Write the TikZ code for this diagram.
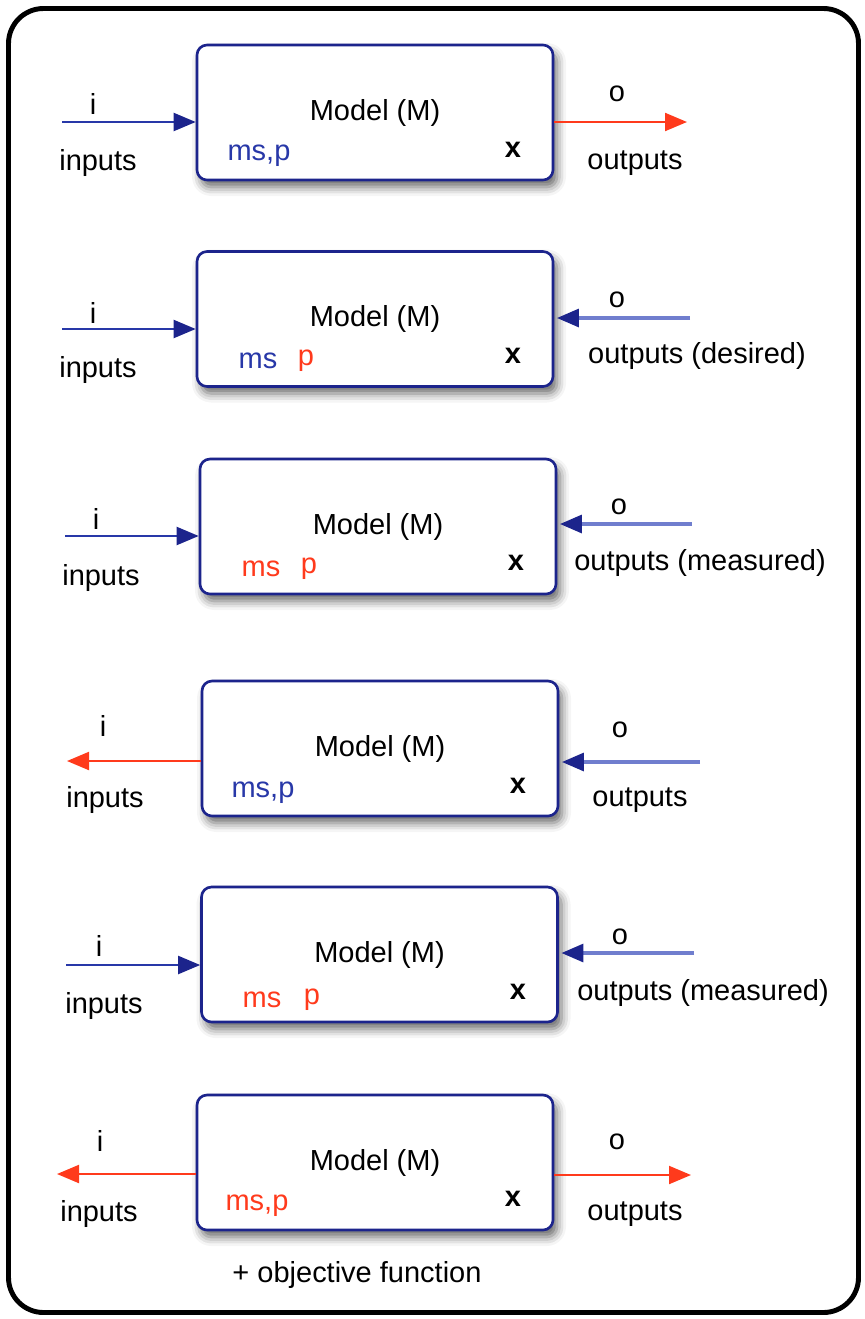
\documentclass[tikz,border=0pt]{standalone}
\usepackage{fontspec}
\setmainfont{Liberation Sans}
\usetikzlibrary{arrows.meta,shadows.blur}

\definecolor{marino}{RGB}{28,36,140}
\definecolor{azul}{RGB}{40,56,168}
\definecolor{celeste}{RGB}{112,126,206}
\definecolor{rojo}{RGB}{255,58,28}

\begin{document}
\begin{tikzpicture}[font=\fontsize{16.5}{19}\selectfont,
		modelo/.style={draw=marino, line width=1.5pt, rounded corners=2mm, fill=white,
			minimum width=7.12cm, minimum height=2.7cm,
			blur shadow={shadow xshift=0.8mm, shadow yshift=-1.4mm, shadow blur radius=1.8mm, shadow opacity=60}},
		entra/.style={line width=1.2pt, draw=azul, -{Triangle[length=4.4mm, width=3.6mm, color=marino]}},
		vuelve/.style={line width=1.8pt, draw=celeste, -{Triangle[length=4.4mm, width=3.6mm, color=marino]}},
		sale/.style={line width=1.2pt, draw=rojo, -{Triangle[length=4.4mm, width=3.6mm, color=rojo]}},
		ta/.style={text=azul},
		tr/.style={text=rojo},
		estado/.style={font=\fontsize{16.5}{19}\selectfont\bfseries}]
	\useasboundingbox (0,0) rectangle (17.3,-26.38);
	\draw[line width=2.8pt, rounded corners=0.7cm] (0.17,-0.17) rectangle (17.17,-26.25);

	% fila 1: simulacion
	\node[modelo] (m1) at (7.50,-2.25) {Model (M)};
	\node[ta] (mp1) at (5.18,-3.12) {ms,p};
	\node[estado] (x1) at (10.26,-3.00) {x};
	\coordinate (in1) at (1.24,-2.44);
	\coordinate (out1) at (13.74,-2.44);
	\draw[entra] (in1) -- (in1 -| m1.west);
	\draw[sale] (m1.east |- out1) -- (out1);
	\node (i1) at (1.86,-2.08) {i};
	\node (ti1) at (1.96,-3.26) {inputs};
	\node (o1) at (12.34,-1.88) {o};
	\node (to1) at (12.70,-3.26) {outputs};

	% fila 2: diseno
	\node[modelo] (m2) at (7.50,-6.38) {Model (M)};
	\node[ta] (ms2) at (5.16,-7.22) {ms};
	\node[tr] (p2) at (6.12,-7.22) {p};
	\node[estado] (x2) at (10.26,-7.12) {x};
	\coordinate (in2) at (1.24,-6.58);
	\coordinate (out2) at (13.80,-6.36);
	\draw[entra] (in2) -- (in2 -| m2.west);
	\draw[vuelve, shorten >=1.5pt] (out2) -- (out2 -| m2.east);
	\node (i2) at (1.86,-6.26) {i};
	\node (ti2) at (1.96,-7.40) {inputs};
	\node (o2) at (12.34,-6.00) {o};
	\node (to2) at (13.94,-7.11) {outputs (desired)};

	% fila 3: ajuste de parametros
	\node[modelo] (m3) at (7.56,-10.53) {Model (M)};
	\node[tr] (ms3) at (5.22,-11.38) {ms};
	\node[tr] (p3) at (6.18,-11.38) {p};
	\node[estado] (x3) at (10.32,-11.26) {x};
	\coordinate (in3) at (1.30,-10.72);
	\coordinate (out3) at (13.84,-10.48);
	\draw[entra] (in3) -- (in3 -| m3.west);
	\draw[vuelve, shorten >=1.5pt] (out3) -- (out3 -| m3.east);
	\node (i3) at (1.92,-10.38) {i};
	\node (ti3) at (2.02,-11.56) {inputs};
	\node (o3) at (12.38,-10.14) {o};
	\node (to3) at (14.00,-11.25) {outputs (measured)};

	% fila 4: inversa
	\node[modelo] (m4) at (7.60,-14.97) {Model (M)};
	\node[ta] (mp4) at (5.26,-15.86) {ms,p};
	\node[estado] (x4) at (10.36,-15.72) {x};
	\coordinate (in4) at (1.34,-15.22);
	\coordinate (out4) at (14.00,-15.24);
	\draw[sale] (in4 -| m4.west) -- (in4);
	\draw[vuelve, shorten >=1.5pt] (out4) -- (out4 -| m4.east);
	\node (i4) at (2.06,-14.52) {i};
	\node (ti4) at (2.10,-16.00) {inputs};
	\node (o4) at (12.40,-14.60) {o};
	\node (to4) at (12.80,-16.00) {outputs};

	% fila 5: identificacion
	\node[modelo] (m5) at (7.59,-19.09) {Model (M)};
	\node[tr] (ms5) at (5.24,-20.00) {ms};
	\node[tr] (p5) at (6.24,-20.00) {p};
	\node[estado] (x5) at (10.36,-19.84) {x};
	\coordinate (in5) at (1.32,-19.30);
	\coordinate (out5) at (13.88,-19.06);
	\draw[entra] (in5) -- (in5 -| m5.west);
	\draw[vuelve, shorten >=1.5pt] (out5) -- (out5 -| m5.east);
	\node (i5) at (1.98,-18.92) {i};
	\node (ti5) at (2.08,-20.12) {inputs};
	\node (o5) at (12.40,-18.74) {o};
	\node (to5) at (14.06,-19.85) {outputs (measured)};

	% fila 6: optimizacion
	\node[modelo] (m6) at (7.50,-23.25) {Model (M)};
	\node[tr] (mp6) at (5.14,-24.12) {ms,p};
	\node[estado] (x6) at (10.26,-23.98) {x};
	\coordinate (in6) at (1.14,-23.48);
	\coordinate (out6) at (13.82,-23.50);
	\draw[sale] (in6 -| m6.west) -- (in6);
	\draw[sale] (m6.east |- out6) -- (out6);
	\node (i6) at (2.00,-22.82) {i};
	\node (ti6) at (1.98,-24.28) {inputs};
	\node (o6) at (12.34,-22.84) {o};
	\node (to6) at (12.70,-24.28) {outputs};
	\node (obj) at (7.14,-25.50) {+ objective function};
\end{tikzpicture}
\end{document}
